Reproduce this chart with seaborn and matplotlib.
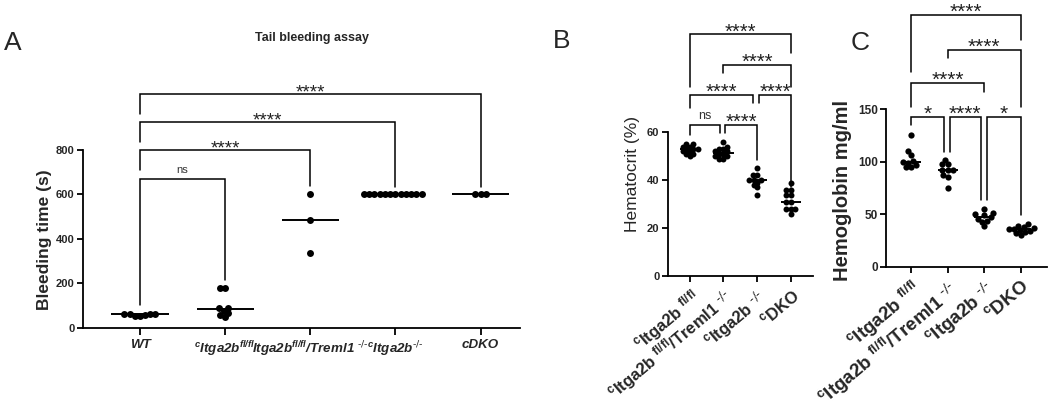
import numpy as np
import pandas as pd
import matplotlib.pyplot as plt
import seaborn as sns

sns.set_theme(style="ticks")
plt.rcParams['font.family'] = ['Liberation Sans', 'DejaVu Sans']
plt.rcParams['mathtext.default'] = 'regular'

# ---- panel A: tail bleeding assay
groups_a = ["WT", "cItga2b fl/fl", "Itga2b fl/fl/Treml1-/-", "cItga2b-/-", "cDKO"]
labels_a = ["WT", r"$^{c}$Itga2b$^{fl/fl}$", r"Itga2b$^{fl/fl}$/Treml1 $^{\text{-/-}}$",
            r"$^{c}$Itga2b$^{\text{-/-}}$", "cDKO"]
bleed_wt = [58, 64, 61, 61, 52, 61, 55]
bleed_citga_flfl = [58, 90, 66, 76, 90, 48, 178, 178]
bleed_treml1 = [600, 487, 337]
bleed_citga_ko = [600, 600, 600, 600, 600, 600, 600, 600, 600, 600, 600, 600]
bleed_cdko = [600, 600, 600]
# (left group, right group, bar height, left leg end, right leg end, text)
brackets_a = [(0, 1, 670, 103, 216, "ns"),
              (0, 2, 800, 710, 638, "****"),
              (0, 3, 926, 836, 634, "****"),
              (0, 4, 1052, 962, 634, "****")]

# ---- panels B and C
groups_bc = ["cItga2b fl/fl", "cItga2b fl/fl/Treml1-/-", "cItga2b-/-", "cDKO"]
labels_bc = [r"$^{c}$Itga2b $^{fl/fl}$", r"$^{c}$Itga2b $^{fl/fl}$/Treml1 $^{\text{-/-}}$",
             r"$^{c}$Itga2b $^{\text{-/-}}$", r"$^{c}$DKO"]
hct_citga_flfl = [55, 55, 54, 54, 53, 53, 53, 52, 52, 51, 51, 50]
hct_treml1 = [56, 54, 53, 53, 52, 52, 51, 51, 50, 50, 49, 49]
hct_citga_ko = [45, 42, 42, 40, 40, 40, 39, 38, 37, 34]
hct_cdko = [39, 36, 36, 34, 34, 31, 31, 28, 28, 28, 26]
brackets_b = [(0, 3, 100.8, 78.7, 92.9, "****"),
              (1, 3, 87.9, 84.6, 78.7, "****"),
              (0, 1.88, 75.4, 70.0, 72.0, "****"),
              (2.06, 3, 75.4, 72.0, 37.0, "****"),
              (0, 0.91, 62.9, 58.7, 59.6, "ns"),
              (1.06, 2, 62.9, 59.6, 48.3, "****")]

hb_citga_flfl = [125, 110, 106, 101, 100, 99, 95, 95, 97]
hb_treml1 = [98, 98, 102, 92, 92, 92, 87, 85, 75]
hb_citga_ko = [55, 51, 50, 49, 47, 46, 44, 43, 39]
hb_cdko = [41, 39, 38, 37, 36, 36, 35, 34, 33, 32, 30]
brackets_c = [(0, 3, 239.3, 185.2, 215.6, "****"),
              (1, 3, 206.0, 198.5, 152.0, "****"),
              (0, 2, 174.7, 152.0, 166.2, "****"),
              (0, 0.9, 142.5, 134.9, 109.2, "*"),
              (1.06, 1.91, 142.5, 109.2, 63.6, "****"),
              (2.07, 3, 142.5, 63.6, 49.4, "*")]


def long_df(groups, series):
    return pd.DataFrame({"group": np.repeat(groups, [len(s) for s in series]),
                         "value": np.concatenate(series)})


def scatter_dot(ax, df, order, swarm_size, med_width):
    sns.swarmplot(data=df, x="group", y="value", order=order, color="black",
                  size=swarm_size, linewidth=0, ax=ax)
    sns.boxplot(data=df, x="group", y="value", order=order, fill=False, width=med_width,
                whis=0, showcaps=False, showfliers=False,
                boxprops={"visible": False}, whiskerprops={"visible": False},
                medianprops={"color": "black", "linewidth": 1.4}, ax=ax)


def draw_brackets(ax, brackets, fs_star, fs_ns):
    for x1, x2, y, y1, y2, txt in brackets:
        ax.plot([x1, x1, x2, x2], [y1, y, y, y2], color="black", lw=1.1,
                clip_on=False, solid_joinstyle="miter")
        if txt == "ns":
            ax.annotate(txt, ((x1 + x2) / 2, y), xytext=(0, 4.2), textcoords="offset points",
                        ha="center", va="baseline", fontsize=fs_ns, color="#333333")
        else:
            ax.annotate(txt, ((x1 + x2) / 2, y), xytext=(0, -2.2), textcoords="offset points",
                        ha="center", va="baseline", fontsize=fs_star, color="#222222")


def style_axes(ax, ymax_tick, yticks, tick_fs):
    sns.despine(ax=ax)
    ax.spines["left"].set_bounds(0, ymax_tick)
    for s in ["left", "bottom"]:
        ax.spines[s].set_linewidth(1.3)
        ax.spines[s].set_color("black")
    ax.set_yticks(yticks)
    ax.tick_params(axis="both", direction="out", length=4, width=1.3, color="black")
    ax.tick_params(axis="y", labelsize=tick_fs, pad=2)
    for t in ax.get_yticklabels():
        t.set_fontweight("bold")
    ax.set_xlabel("")


fig = plt.figure(figsize=(10.5, 4.12), dpi=100)

axA = fig.add_axes([0.079, 0.204, 0.416, 0.650])
axB = fig.add_axes([0.636, 0.330, 0.138, 0.621])
axC = fig.add_axes([0.8438, 0.352, 0.1533, 0.643])

dfA = long_df(groups_a, [bleed_wt, bleed_citga_flfl, bleed_treml1, bleed_citga_ko, bleed_cdko])
dfB = long_df(groups_bc, [hct_citga_flfl, hct_treml1, hct_citga_ko, hct_cdko])
dfC = long_df(groups_bc, [hb_citga_flfl, hb_treml1, hb_citga_ko, hb_cdko])

scatter_dot(axA, dfA, groups_a, 3.6, 0.67)
scatter_dot(axB, dfB, groups_bc, 3.0, 0.6)
scatter_dot(axC, dfC, groups_bc, 3.5, 0.55)

# panel A
axA.set_xlim(-0.67, 4.46)
axA.set_ylim(0, 1204)
style_axes(axA, 800, [0, 200, 400, 600, 800], 8)
axA.set_xticks(range(len(groups_a)))
axA.set_xticklabels(labels_a, fontsize=9.6, fontweight="bold", style="italic")
axA.tick_params(axis="x", length=5, pad=3)
axA.set_ylabel("Bleeding time (s)", fontsize=12.5, fontweight="bold")
axA.yaxis.set_label_coords(-0.07, 0.33)
draw_brackets(axA, brackets_a, 13.5, 8)

# panel B
axB.set_xlim(-0.65, 3.65)
axB.set_ylim(0, 106.7)
style_axes(axB, 60, [0, 20, 40, 60], 8)
axB.set_xticks(range(len(groups_bc)))
axB.set_xticklabels(labels_bc, fontsize=12, fontweight="bold", rotation=40,
                    ha="right", rotation_mode="anchor")
axB.set_ylabel("Hematocrit (%)", fontsize=12.5)
axB.yaxis.set_label_coords(-0.19, 0.40)
draw_brackets(axB, brackets_b, 14.5, 9)

# panel C
axC.set_xlim(-0.68, 3.71)
axC.set_ylim(0, 251.6)
style_axes(axC, 150, [0, 50, 100, 150], 8.5)
axC.set_xticks(range(len(groups_bc)))
axC.set_xticklabels(labels_bc, fontsize=13.5, fontweight="bold", rotation=40,
                    ha="right", rotation_mode="anchor")
axC.set_ylabel("Hemoglobin mg/ml", fontsize=14.5, fontweight="bold")
axC.yaxis.set_label_coords(-0.21, 0.29)
draw_brackets(axC, brackets_c, 15, 9)

fig.text(0.297, 0.907, "Tail bleeding assay", ha="center", va="center", fontsize=9, fontweight="bold")
fig.text(0.004, 0.895, "A", ha="left", va="center", fontsize=19)
fig.text(0.527, 0.900, "B", ha="left", va="center", fontsize=19)
fig.text(0.810, 0.895, "C", ha="left", va="center", fontsize=19)

# swarm layout is computed with small markers, then frozen and the dots enlarged
fig.canvas.draw()
for ax, d in [(axA, 5.0), (axB, 4.3), (axC, 4.5)]:
    for coll in ax.collections:
        coll.__dict__.pop("draw", None)
        coll.set_sizes([d ** 2])

fig.savefig("out.png", dpi=100)
